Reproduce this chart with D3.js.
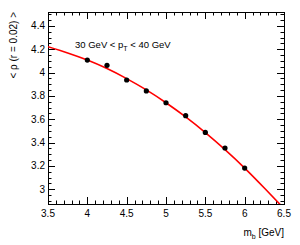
<!DOCTYPE html>
<html>
<head>
<meta charset="utf-8">
<script src="https://cdn.jsdelivr.net/npm/d3@7"></script>
<style>
body { margin: 0; background: white; }
svg text { font-family: "Liberation Sans", Arial, sans-serif; }
</style>
</head>
<body>
<div id="chart"></div>
<script>
let width = 300;
let height = 245;
let margin = {left: 48, right: 16, top: 12, bottom: 41};

// measured points
let massX = [4.0, 4.25, 4.5, 4.75, 5.0, 5.25, 5.5, 5.75, 6.0];
let rhoY = [4.108, 4.063, 3.937, 3.843, 3.742, 3.631, 3.488, 3.354, 3.182];

// fitted curve
let fitX = [3.5, 3.75, 4.0, 4.25, 4.5, 4.75, 5.0, 5.25, 5.5, 5.75, 6.0, 6.25, 6.5];
let fitY = [4.222, 4.169, 4.108, 4.035, 3.949, 3.852, 3.742, 3.620, 3.486, 3.340, 3.182, 3.011, 2.835];

let xTicks = [3.5, 4, 4.5, 5, 5.5, 6, 6.5];
let yTicks = [3, 3.2, 3.4, 3.6, 3.8, 4, 4.2, 4.4];

let svg = d3.select("#chart").append("svg")
	.attr("width", width)
	.attr("height", height);

let x = d3.scaleLinear()
	.domain([3.5, 6.5])
	.range([margin.left, width - margin.right]);

let y = d3.scaleLinear()
	.domain([2.874, 4.52])
	.range([height - margin.bottom, margin.top]);

let x0 = margin.left, x1 = width - margin.right;
let y0 = height - margin.bottom, y1 = margin.top;

// minor ticks
let xMinor = d3.range(35, 66).map(d => d / 10);
let yMinor = d3.range(58, 91).map(d => d / 20).filter(d => d >= 2.874 && d <= 4.52);

let ticks = svg.append("g").attr("stroke", "#000").attr("stroke-width", 1);
xMinor.forEach(v => {
	let major = xTicks.some(t => Math.abs(t - v) < 1e-6);
	let len = major ? 7 : 3.5;
	let px = Math.round(x(v)) + 0.5;
	ticks.append("line").attr("x1", px).attr("x2", px).attr("y1", y0).attr("y2", y0 - len);
	ticks.append("line").attr("x1", px).attr("x2", px).attr("y1", y1).attr("y2", y1 + len);
});
yMinor.forEach(v => {
	let major = yTicks.some(t => Math.abs(t - v) < 1e-6);
	let len = major ? 7 : 3.5;
	let py = Math.round(y(v)) + 0.5;
	ticks.append("line").attr("x1", x0).attr("x2", x0 + len).attr("y1", py).attr("y2", py);
	ticks.append("line").attr("x1", x1).attr("x2", x1 - len).attr("y1", py).attr("y2", py);
});

// frame
svg.append("rect")
	.attr("x", x0 + 0.5)
	.attr("y", y1 + 0.5)
	.attr("width", x1 - x0)
	.attr("height", y0 - y1)
	.attr("fill", "none")
	.attr("stroke", "#000")
	.attr("stroke-width", 1);

// tick labels
svg.append("g").selectAll("text")
	.data(xTicks)
	.enter().append("text")
	.attr("x", d => x(d))
	.attr("y", y0 + 13)
	.attr("text-anchor", "middle")
	.attr("font-size", 10)
	.text(d => d);

svg.append("g").selectAll("text")
	.data(yTicks)
	.enter().append("text")
	.attr("x", x0 - 3)
	.attr("y", d => y(d) + 3.5)
	.attr("text-anchor", "end")
	.attr("font-size", 10)
	.text(d => d);

// clip for curve
svg.append("clipPath").attr("id", "clip")
	.append("rect")
	.attr("x", x0).attr("y", y1)
	.attr("width", x1 - x0).attr("height", y0 - y1);

let line = d3.line()
	.x(d => x(d[0]))
	.y(d => y(d[1]))
	.curve(d3.curveNatural);

svg.append("path")
	.datum(d3.zip(fitX, fitY))
	.attr("clip-path", "url(#clip)")
	.attr("fill", "none")
	.attr("stroke", "#ff0000")
	.attr("stroke-width", 1.6)
	.attr("d", line);

svg.append("g").selectAll("circle")
	.data(d3.zip(massX, rhoY))
	.enter().append("circle")
	.attr("cx", d => x(d[0]))
	.attr("cy", d => y(d[1]))
	.attr("r", 2.6)
	.attr("fill", "#000");

// label
let lab = svg.append("text")
	.attr("x", 75)
	.attr("y", 48)
	.attr("font-size", 9.5);
lab.append("tspan").text("30 GeV < p");
lab.append("tspan").attr("font-size", 7).attr("dy", 3).text("T");
lab.append("tspan").attr("dy", -3).text(" < 40 GeV");

// axis titles
let xt = svg.append("text")
	.attr("x", x1)
	.attr("y", 236)
	.attr("text-anchor", "end")
	.attr("font-size", 10);
xt.append("tspan").text("m");
xt.append("tspan").attr("font-size", 7).attr("dy", 3).text("b");
xt.append("tspan").attr("dy", -3).text(" [GeV]");

svg.append("text")
	.attr("transform", `translate(17,${y1}) rotate(-90)`)
	.attr("text-anchor", "end")
	.attr("font-size", 10)
	.text("< ρ (r = 0.02) >");
</script>
</body>
</html>
